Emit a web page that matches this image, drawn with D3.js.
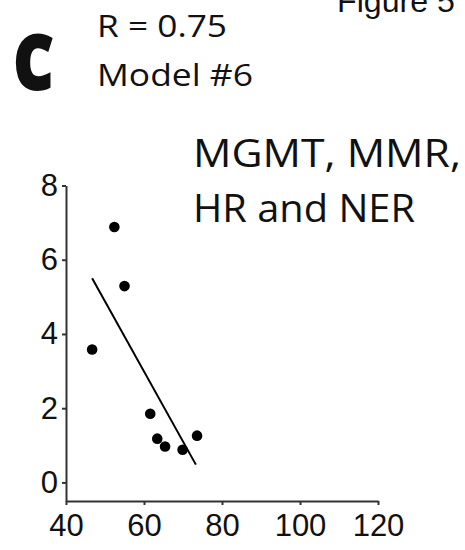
<!DOCTYPE html>
<html>
<head>
<meta charset="utf-8">
<script src="https://cdn.jsdelivr.net/npm/d3@7"></script>
<style>
  body { margin: 0; background: #fff; }
  svg { display: block; }
  .axis path, .axis line { stroke: #333; stroke-width: 2px; }
  .axis text { font-family: "Liberation Sans", Arial, sans-serif; font-size: 31px; fill: #111; }
  .label { font-family: "Open Sans", sans-serif; fill: #111; }
</style>
</head>
<body>
<div id="chart"></div>
<script>
// scatter points (x, y)
var pointX = [46.7, 52.4, 55.0, 61.6, 63.4, 65.4, 69.9, 73.6];
var pointY = [3.58, 6.88, 5.29, 1.85, 1.18, 0.97, 0.88, 1.26];

// fitted line endpoints
var fitX = [46.7, 73.3];
var fitY = [5.5, 0.48];

var xTicks = [40, 60, 80, 100, 120];
var yTicks = [0, 2, 4, 6, 8];

var width = 465, height = 550;

var svg = d3.select("#chart").append("svg")
  .attr("width", width)
  .attr("height", height);

var x = d3.scaleLinear().domain([40, 120]).range([66, 378]);
var y = d3.scaleLinear().domain([-0.5, 8]).range([501, 185.5]);

// axes
svg.append("g")
  .attr("class", "x axis")
  .attr("transform", "translate(0," + y(-0.5) + ")")
  .call(d3.axisBottom(x).tickValues(xTicks).tickSize(4).tickSizeOuter(0).tickPadding(9));

svg.append("g")
  .attr("class", "y axis")
  .attr("transform", "translate(" + x(40) + ",0)")
  .call(d3.axisLeft(y).tickValues(yTicks).tickSize(4).tickSizeOuter(0).tickPadding(4));

// fit line
var fit = d3.range(fitX.length).map(function (i) { return [fitX[i], fitY[i]]; });
svg.append("path")
  .datum(fit)
  .attr("fill", "none")
  .attr("stroke", "#000")
  .attr("stroke-width", 2)
  .attr("d", d3.line()
    .x(function (d) { return x(d[0]); })
    .y(function (d) { return y(d[1]); }));

// points
var pts = d3.range(pointX.length).map(function (i) { return [pointX[i], pointY[i]]; });
svg.selectAll("circle.dot")
  .data(pts)
  .enter().append("circle")
  .attr("class", "dot")
  .attr("cx", function (d) { return x(d[0]); })
  .attr("cy", function (d) { return y(d[1]); })
  .attr("r", 5.3)
  .attr("fill", "#000");

// labels
function label(txt, lx, ly, size, len, opts) {
  var t = svg.append("text")
    .attr("class", "label")
    .attr("x", lx)
    .attr("y", ly)
    .style("font-size", size + "px")
    .attr("textLength", len)
    .attr("lengthAdjust", "spacingAndGlyphs")
    .text(txt);
  if (opts && opts.weight) t.style("font-weight", opts.weight);
  if (opts && opts.family) t.style("font-family", opts.family);
  return t;
}

label("C", 14, 89, 75, 39, {weight: 800})
  .attr("stroke", "#111").attr("stroke-width", 3);
label("R = 0.75", 97, 37, 31, 130);
label("Model #6", 97, 86, 31, 156);
label("Figure 5", 337, 12, 32, 118, {family: "Liberation Sans, Arial, sans-serif"});
label("MGMT, MMR,", 193, 167, 38, 268);
label("HR and NER", 193, 222, 38, 222);
</script>
</body>
</html>
